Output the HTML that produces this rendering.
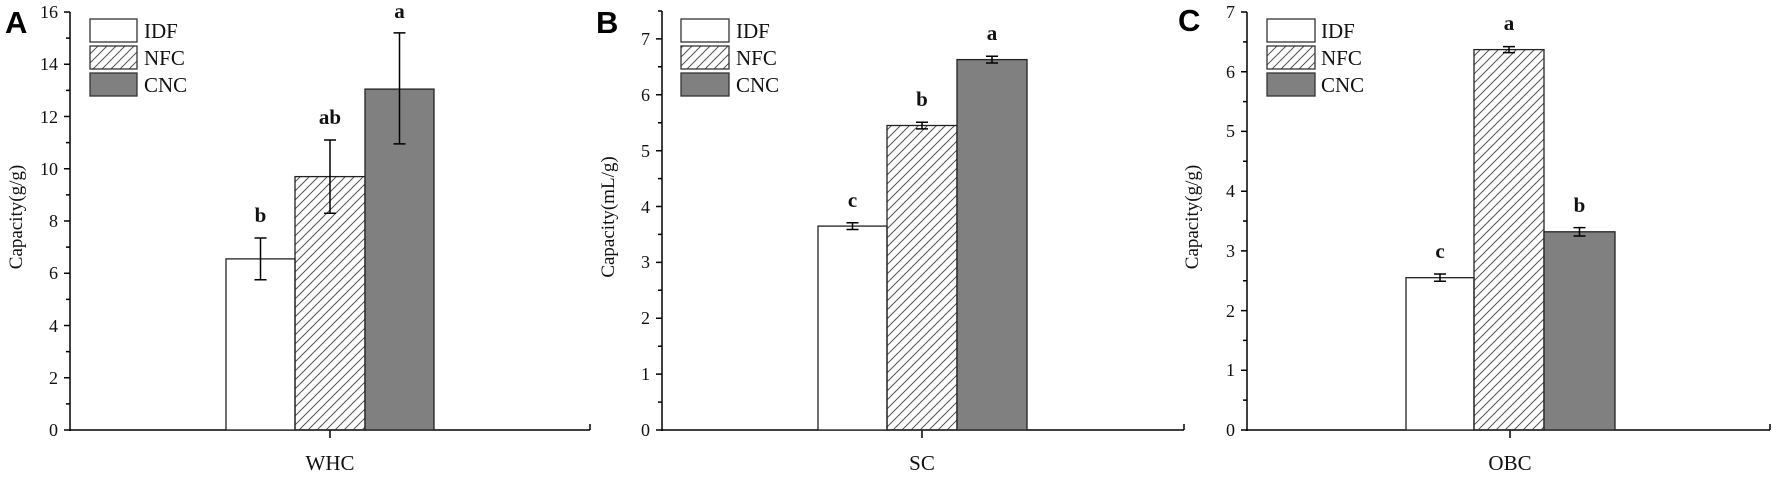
<!DOCTYPE html>
<html><head><meta charset="utf-8"><style>
html,body{margin:0;padding:0;background:#fff;}
svg{display:block;}
.t{font-family:"Liberation Serif",serif;font-size:18px;fill:#111;}
.l{font-family:"Liberation Serif",serif;font-size:21px;font-weight:bold;fill:#111;}
.x{font-family:"Liberation Serif",serif;font-size:21px;fill:#111;}
.lg{font-family:"Liberation Serif",serif;font-size:21px;fill:#111;}
.p{font-family:"Liberation Sans",sans-serif;font-size:31px;font-weight:bold;fill:#000;}
</style></head><body>
<svg width="1772" height="488" viewBox="0 0 1772 488" xmlns="http://www.w3.org/2000/svg">
<defs>
<pattern id="h" patternUnits="userSpaceOnUse" width="9" height="9">
<path d="M-1,10 L10,-1 M-1,1 L1,-1 M8,10 L10,8" stroke="#555" stroke-width="1"/>
</pattern>
</defs>

<!-- Panel A -->
<text class="p" x="5" y="33">A</text>
<text class="t" transform="translate(22,217) rotate(-90)" text-anchor="middle" style="font-size:19px">Capacity(g/g)</text>
<g stroke="#000" stroke-width="1.5" fill="none">
<line x1="70" y1="12" x2="70" y2="431"/>
<line x1="69" y1="430" x2="590" y2="430"/>
<line x1="590" y1="430" x2="590" y2="424"/>
<line x1="330" y1="430" x2="330" y2="438"/>
<path d="M64,430H70M64,377.75H70M64,325.5H70M64,273.25H70M64,221H70M64,168.75H70M64,116.5H70M64,64.25H70M64,12H70"/>
<path d="M66,403.9H70M66,351.6H70M66,299.4H70M66,247.1H70M66,194.9H70M66,142.6H70M66,90.4H70M66,38.1H70"/>
</g>
<g class="t" text-anchor="end">
<text x="58" y="436">0</text><text x="58" y="384">2</text><text x="58" y="332">4</text><text x="58" y="279">6</text><text x="58" y="227">8</text><text x="58" y="175">10</text><text x="58" y="123">12</text><text x="58" y="70">14</text><text x="58" y="18">16</text>
</g>
<rect x="226" y="258.9" width="69" height="171.1" fill="#fff" stroke="#222" stroke-width="1.3"/>
<rect x="295" y="176.6" width="70" height="253.4" fill="url(#h)" stroke="#222" stroke-width="1.3"/>
<rect x="365" y="89.1" width="69" height="340.9" fill="#808080" stroke="#222" stroke-width="1.3"/>
<g stroke="#000" stroke-width="1.5">
<path d="M260.5,238V279.8M254.5,238H266.5M254.5,279.8H266.5"/>
<path d="M330,140V213.2M324,140H336M324,213.2H336"/>
<path d="M399.5,32.9V143.9M393.5,32.9H405.5M393.5,143.9H405.5"/>
</g>
<g class="l" text-anchor="middle">
<text x="260.5" y="222">b</text><text x="330" y="124">ab</text><text x="399.5" y="18">a</text>
</g>
<text class="x" x="330" y="470" text-anchor="middle">WHC</text>
<rect x="90" y="19" width="47" height="23" fill="#fff" stroke="#333" stroke-width="1.3"/>
<rect x="90" y="46" width="47" height="23" fill="url(#h)" stroke="#333" stroke-width="1.3"/>
<rect x="90" y="73" width="47" height="23" fill="#808080" stroke="#333" stroke-width="1.3"/>
<text class="lg" x="144" y="38">IDF</text><text class="lg" x="144" y="65">NFC</text><text class="lg" x="144" y="92">CNC</text>

<!-- Panel B -->
<text class="p" x="596" y="33">B</text>
<text class="t" transform="translate(614,217) rotate(-90)" text-anchor="middle" style="font-size:19px">Capacity(mL/g)</text>
<g stroke="#000" stroke-width="1.5" fill="none">
<line x1="662" y1="11" x2="662" y2="431"/>
<line x1="661" y1="430" x2="1184" y2="430"/>
<line x1="1184" y1="430" x2="1184" y2="424"/>
<line x1="922" y1="430" x2="922" y2="438"/>
<path d="M656,430H662M656,374.1H662M656,318.3H662M656,262.4H662M656,206.5H662M656,150.7H662M656,94.8H662M656,38.9H662"/>
<path d="M658,402.1H662M658,346.2H662M658,290.3H662M658,234.4H662M658,178.6H662M658,122.7H662M658,66.8H662M658,11H662"/>
</g>
<g class="t" text-anchor="end">
<text x="650" y="436">0</text><text x="650" y="380">1</text><text x="650" y="324">2</text><text x="650" y="268">3</text><text x="650" y="213">4</text><text x="650" y="157">5</text><text x="650" y="101">6</text><text x="650" y="45">7</text>
</g>
<rect x="818" y="226.1" width="69" height="203.9" fill="#fff" stroke="#222" stroke-width="1.3"/>
<rect x="887" y="125.5" width="70" height="304.5" fill="url(#h)" stroke="#222" stroke-width="1.3"/>
<rect x="957" y="59.6" width="70" height="370.4" fill="#808080" stroke="#222" stroke-width="1.3"/>
<g stroke="#000" stroke-width="1.5">
<path d="M852.5,222.7V229.5M846.5,222.7H858.5M846.5,229.5H858.5"/>
<path d="M922,122.2V128.9M916,122.2H928M916,128.9H928"/>
<path d="M992,56.2V63M986,56.2H998M986,63H998"/>
</g>
<g class="l" text-anchor="middle">
<text x="852.5" y="207">c</text><text x="922" y="106">b</text><text x="992" y="40">a</text>
</g>
<text class="x" x="922" y="470" text-anchor="middle">SC</text>
<rect x="681" y="19" width="48" height="23" fill="#fff" stroke="#333" stroke-width="1.3"/>
<rect x="681" y="46" width="48" height="23" fill="url(#h)" stroke="#333" stroke-width="1.3"/>
<rect x="681" y="73" width="48" height="23" fill="#808080" stroke="#333" stroke-width="1.3"/>
<text class="lg" x="736" y="38">IDF</text><text class="lg" x="736" y="65">NFC</text><text class="lg" x="736" y="92">CNC</text>

<!-- Panel C -->
<text class="p" x="1178" y="31">C</text>
<text class="t" transform="translate(1198,217) rotate(-90)" text-anchor="middle" style="font-size:19px">Capacity(g/g)</text>
<g stroke="#000" stroke-width="1.5" fill="none">
<line x1="1247" y1="12" x2="1247" y2="431"/>
<line x1="1246" y1="430" x2="1770" y2="430"/>
<line x1="1770" y1="430" x2="1770" y2="424"/>
<line x1="1510" y1="430" x2="1510" y2="438"/>
<path d="M1241,430H1247M1241,370.3H1247M1241,310.6H1247M1241,250.9H1247M1241,191.2H1247M1241,131.4H1247M1241,71.7H1247M1241,12H1247"/>
<path d="M1243,400.1H1247M1243,340.4H1247M1243,280.7H1247M1243,221H1247M1243,161.3H1247M1243,101.6H1247M1243,41.9H1247"/>
</g>
<g class="t" text-anchor="end">
<text x="1235" y="436">0</text><text x="1235" y="376">1</text><text x="1235" y="317">2</text><text x="1235" y="257">3</text><text x="1235" y="197">4</text><text x="1235" y="137">5</text><text x="1235" y="78">6</text><text x="1235" y="18">7</text>
</g>
<rect x="1406" y="277.7" width="68" height="152.3" fill="#fff" stroke="#222" stroke-width="1.3"/>
<rect x="1474" y="49.6" width="70" height="380.4" fill="url(#h)" stroke="#222" stroke-width="1.3"/>
<rect x="1544" y="231.8" width="71" height="198.2" fill="#808080" stroke="#222" stroke-width="1.3"/>
<g stroke="#000" stroke-width="1.5">
<path d="M1440,274V281.3M1434,274H1446M1434,281.3H1446"/>
<path d="M1509,46.6V52.6M1503,46.6H1515M1503,52.6H1515"/>
<path d="M1579.5,227.6V236M1573.5,227.6H1585.5M1573.5,236H1585.5"/>
</g>
<g class="l" text-anchor="middle">
<text x="1440" y="258">c</text><text x="1509" y="30">a</text><text x="1579.5" y="212">b</text>
</g>
<text class="x" x="1510" y="470" text-anchor="middle">OBC</text>
<rect x="1267" y="19" width="48" height="23" fill="#fff" stroke="#333" stroke-width="1.3"/>
<rect x="1267" y="46" width="48" height="23" fill="url(#h)" stroke="#333" stroke-width="1.3"/>
<rect x="1267" y="73" width="48" height="23" fill="#808080" stroke="#333" stroke-width="1.3"/>
<text class="lg" x="1321" y="38">IDF</text><text class="lg" x="1321" y="65">NFC</text><text class="lg" x="1321" y="92">CNC</text>
</svg>
</body></html>
